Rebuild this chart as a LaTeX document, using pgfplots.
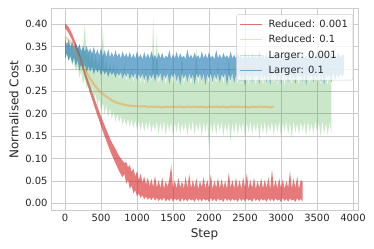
\documentclass[border=0pt]{standalone}
\usepackage{fontspec}
\setmainfont{DejaVu Sans}
\usepackage{pgfplots}
\usepackage{pgfplotstable}
\usepgfplotslibrary{fillbetween}
\pgfplotsset{compat=1.18}
\definecolor{tred}{HTML}{D62728}
\definecolor{torange}{HTML}{FF7F0E}
\definecolor{tgreen}{HTML}{2CA02C}
\definecolor{tblue}{HTML}{1F77B4}
\definecolor{gridc}{HTML}{CCCCCC}
\definecolor{txt}{HTML}{262626}
% x  lower  upper (envelope of the noisy series)
\pgfplotstableread[row sep=\\]{
x l u\\
0 .392 .402\\ 50 .380 .394\\ 100 .364 .378\\ 150 .344 .358\\ 200 .322 .336\\ 250 .296 .310\\ 300 .270 .285\\
350 .245 .262\\ 400 .220 .238\\ 450 .196 .216\\ 500 .172 .194\\ 550 .150 .174\\ 600 .128 .154\\ 650 .108 .136\\
700 .090 .122\\ 750 .072 .106\\ 800 .058 .095\\ 825 .066 .090\\ 850 .044 .092\\ 875 .052 .080\\ 900 .032 .086\\
925 .040 .070\\ 950 .022 .078\\ 975 .030 .060\\ 1000 .015 .072\\ 1025 .022 .052\\ 1050 .012 .066\\ 1075 .018 .046\\
1100 .009 .060\\ 1125 .015 .042\\ 1150 .008 .058\\ 1175 .013 .038\\ 1200 .007 .055\\ 1225 .014 .036\\ 1250 .006 .062\\
1275 .012 .035\\ 1300 .005 .052\\ 1325 .011 .034\\ 1350 .006 .058\\ 1375 .013 .033\\ 1400 .004 .050\\ 1425 .010 .036\\
1450 .005 .056\\ 1475 .012 .085\\ 1500 .004 .034\\ 1525 .011 .052\\ 1550 .006 .033\\ 1575 .010 .057\\ 1600 .003 .035\\
1625 .012 .050\\ 1650 .005 .032\\ 1675 .010 .060\\ 1700 .004 .034\\ 1725 .011 .066\\ 1750 .006 .033\\ 1775 .009 .052\\
1800 .003 .035\\ 1825 .012 .056\\ 1850 .005 .032\\ 1875 .010 .050\\ 1900 .004 .036\\ 1925 .011 .058\\ 1950 .006 .033\\
1975 .009 .053\\ 2000 .003 .034\\ 2025 .012 .064\\ 2050 .005 .032\\ 2075 .010 .051\\ 2100 .004 .035\\ 2125 .011 .056\\
2150 .006 .033\\ 2175 .009 .054\\ 2200 .003 .034\\ 2225 .012 .050\\ 2250 .005 .032\\ 2275 .010 .068\\ 2300 .004 .035\\
2325 .011 .052\\ 2350 .006 .033\\ 2375 .009 .057\\ 2400 .003 .034\\ 2425 .012 .052\\ 2450 .005 .032\\ 2475 .010 .058\\
2500 .004 .035\\ 2525 .011 .067\\ 2550 .006 .033\\ 2575 .009 .052\\ 2600 .003 .034\\ 2625 .012 .057\\ 2650 .005 .032\\
2675 .010 .050\\ 2700 .004 .035\\ 2725 .011 .056\\ 2750 .006 .033\\ 2775 .009 .053\\ 2800 .003 .034\\ 2825 .012 .058\\
2850 .005 .032\\ 2875 .010 .076\\ 2900 .004 .035\\ 2925 .011 .052\\ 2950 .006 .033\\ 2975 .009 .056\\ 3000 .003 .034\\
3025 .012 .054\\ 3050 .005 .032\\ 3075 .010 .050\\ 3100 .004 .035\\ 3125 .011 .072\\ 3150 .006 .033\\ 3175 .009 .055\\
3200 .003 .034\\ 3225 .012 .060\\ 3250 .005 .032\\ 3275 .010 .052\\ 3300 .004 .048\\
}\redtab
\pgfplotstableread[row sep=\\]{
x y\\
0 .372\\ 50 .365\\ 100 .355\\ 150 .340\\ 200 .322\\ 250 .305\\ 300 .291\\ 350 .278\\ 400 .266\\ 450 .256\\
500 .248\\ 550 .241\\ 600 .235\\ 650 .230\\ 700 .226\\ 750 .223\\ 800 .221\\ 850 .219\\ 900 .218\\ 950 .217\\
1000 .217\\ 1050 .216\\ 1100 .217\\ 1150 .215\\ 1200 .216\\ 1250 .215\\ 1300 .216\\ 1350 .214\\ 1400 .216\\ 1450 .215\\
1500 .216\\ 1550 .215\\ 1600 .216\\ 1650 .214\\ 1700 .216\\ 1750 .215\\ 1800 .216\\ 1850 .215\\ 1900 .216\\ 1950 .214\\
2000 .216\\ 2050 .215\\ 2100 .216\\ 2150 .215\\ 2200 .216\\ 2250 .214\\ 2300 .216\\ 2350 .215\\ 2400 .216\\ 2450 .215\\
2500 .216\\ 2550 .214\\ 2600 .216\\ 2650 .215\\ 2700 .216\\ 2750 .215\\ 2800 .216\\ 2850 .214\\ 2900 .216\\
}\orangetab
\pgfplotstableread[row sep=\\]{
x l u\\
0 .325 .362\\ 25 .332 .350\\ 50 .318 .360\\ 75 .326 .345\\ 100 .308 .355\\ 125 .318 .340\\ 150 .295 .352\\
175 .306 .335\\ 200 .280 .355\\ 225 .295 .330\\ 250 .265 .350\\ 275 .282 .400\\ 300 .255 .325\\ 325 .270 .345\\
350 .242 .318\\ 375 .258 .340\\ 400 .228 .312\\ 425 .246 .335\\ 450 .218 .305\\ 475 .235 .330\\ 500 .205 .300\\
525 .225 .392\\ 550 .200 .295\\ 575 .218 .322\\ 600 .192 .290\\ 625 .212 .315\\ 650 .188 .285\\ 675 .205 .312\\
700 .182 .280\\ 725 .200 .305\\ 750 .180 .278\\ 775 .196 .300\\ 800 .175 .275\\ 825 .192 .310\\ 850 .172 .272\\
875 .190 .298\\ 900 .170 .270\\ 925 .188 .302\\ 950 .168 .268\\ 975 .186 .295\\ 1000 .165 .266\\ 1025 .185 .298\\
1050 .162 .265\\ 1075 .184 .300\\ 1100 .160 .262\\ 1125 .182 .305\\ 1150 .164 .265\\ 1175 .185 .295\\ 1200 .158 .268\\
1225 .180 .412\\ 1250 .162 .265\\ 1275 .184 .380\\ 1300 .155 .262\\ 1325 .182 .296\\ 1350 .160 .266\\ 1375 .185 .300\\
1400 .152 .263\\ 1425 .180 .294\\ 1450 .160 .268\\ 1475 .183 .302\\ 1500 .148 .262\\ 1525 .182 .296\\ 1550 .158 .265\\
1575 .184 .300\\ 1600 .155 .264\\ 1625 .180 .335\\ 1650 .160 .262\\ 1675 .183 .296\\ 1700 .150 .266\\ 1725 .182 .300\\
1750 .158 .263\\ 1775 .185 .295\\ 1800 .154 .265\\ 1825 .180 .350\\ 1850 .160 .262\\ 1875 .183 .298\\ 1900 .148 .266\\
1925 .182 .302\\ 1950 .158 .263\\ 1975 .184 .295\\ 2000 .125 .265\\ 2025 .180 .305\\ 2050 .156 .262\\ 2075 .183 .296\\
2100 .152 .266\\ 2125 .182 .310\\ 2150 .160 .263\\ 2175 .184 .295\\ 2200 .150 .265\\ 2225 .180 .300\\ 2250 .158 .262\\
2275 .183 .330\\ 2300 .138 .266\\ 2325 .182 .296\\ 2350 .156 .263\\ 2375 .184 .302\\ 2400 .152 .265\\ 2425 .180 .295\\
2450 .160 .262\\ 2475 .183 .300\\ 2500 .145 .266\\ 2525 .182 .340\\ 2550 .158 .263\\ 2575 .184 .296\\ 2600 .154 .265\\
2625 .180 .302\\ 2650 .160 .262\\ 2675 .183 .295\\ 2700 .142 .266\\ 2725 .182 .300\\ 2750 .156 .263\\ 2775 .184 .296\\
2800 .152 .265\\ 2825 .180 .330\\ 2850 .160 .262\\ 2875 .183 .298\\ 2900 .150 .266\\ 2925 .182 .302\\ 2950 .158 .263\\
2975 .184 .295\\ 3000 .148 .265\\ 3025 .180 .310\\ 3050 .160 .262\\ 3075 .183 .296\\ 3100 .152 .266\\ 3125 .182 .300\\
3150 .145 .263\\ 3175 .184 .302\\ 3200 .158 .265\\ 3225 .180 .295\\ 3250 .154 .262\\ 3275 .183 .320\\ 3300 .160 .266\\
3325 .182 .296\\ 3350 .150 .263\\ 3375 .184 .300\\ 3400 .158 .265\\ 3425 .180 .295\\ 3450 .154 .262\\ 3475 .183 .335\\
3500 .160 .266\\ 3525 .182 .296\\ 3550 .150 .263\\ 3575 .184 .302\\ 3600 .156 .265\\ 3625 .180 .295\\ 3650 .152 .262\\
3675 .183 .300\\ 3700 .155 .290\\
}\greentab
\pgfplotstableread[row sep=\\]{
x l u\\
0 .322 .368\\ 25 .335 .355\\ 50 .318 .366\\ 75 .330 .350\\ 100 .312 .362\\ 125 .326 .348\\ 150 .305 .358\\
175 .320 .345\\ 200 .296 .356\\ 225 .312 .340\\ 250 .298 .352\\ 275 .310 .338\\ 300 .292 .352\\ 325 .306 .336\\
350 .294 .346\\ 375 .305 .334\\ 400 .288 .350\\ 425 .302 .332\\ 450 .292 .344\\ 475 .300 .330\\ 500 .285 .348\\
525 .298 .328\\ 550 .288 .342\\ 575 .296 .327\\ 600 .282 .345\\ 625 .295 .326\\ 650 .286 .338\\ 675 .294 .325\\
700 .280 .342\\ 725 .293 .327\\ 750 .284 .336\\ 775 .294 .324\\ 800 .278 .340\\ 825 .292 .326\\ 850 .282 .335\\
875 .293 .325\\ 900 .275 .338\\ 925 .290 .324\\ 950 .280 .334\\ 975 .292 .323\\ 1000 .272 .340\\ 1025 .290 .325\\
1050 .278 .333\\ 1075 .291 .322\\ 1100 .274 .338\\ 1125 .290 .324\\ 1150 .268 .335\\ 1175 .289 .323\\ 1200 .278 .340\\
1225 .291 .325\\ 1250 .272 .332\\ 1275 .290 .322\\ 1300 .280 .337\\ 1325 .292 .324\\ 1350 .270 .336\\ 1375 .289 .323\\
1400 .278 .330\\ 1425 .291 .325\\ 1450 .266 .342\\ 1475 .290 .322\\ 1500 .280 .333\\ 1525 .292 .324\\ 1550 .272 .338\\
1575 .289 .323\\ 1600 .264 .335\\ 1625 .291 .325\\ 1650 .278 .330\\ 1675 .290 .322\\ 1700 .270 .344\\ 1725 .292 .324\\
1750 .276 .332\\ 1775 .289 .323\\ 1800 .266 .337\\ 1825 .291 .325\\ 1850 .280 .331\\ 1875 .290 .322\\ 1900 .273 .340\\
1925 .292 .324\\ 1950 .264 .334\\ 1975 .289 .323\\ 2000 .278 .338\\ 2025 .291 .325\\ 2050 .270 .330\\ 2075 .290 .322\\
2100 .276 .343\\ 2125 .292 .324\\ 2150 .268 .333\\ 2175 .289 .323\\ 2200 .280 .336\\ 2225 .291 .325\\ 2250 .262 .331\\
2275 .290 .322\\ 2300 .274 .339\\ 2325 .292 .324\\ 2350 .267 .332\\ 2375 .289 .323\\ 2400 .278 .337\\ 2425 .291 .325\\
2450 .271 .330\\ 2475 .290 .322\\ 2500 .262 .340\\ 2525 .292 .324\\ 2550 .276 .332\\ 2575 .289 .323\\ 2600 .269 .336\\
2625 .291 .325\\ 2650 .278 .330\\ 2675 .290 .322\\ 2700 .266 .341\\ 2725 .292 .324\\ 2750 .275 .333\\ 2775 .289 .323\\
2800 .270 .337\\ 2825 .291 .325\\ 2850 .264 .331\\ 2875 .290 .322\\ 2900 .278 .339\\ 2925 .292 .324\\ 2950 .272 .332\\
2975 .289 .323\\ 3000 .267 .336\\ 3025 .291 .325\\ 3050 .278 .330\\ 3075 .290 .322\\ 3100 .270 .342\\ 3125 .292 .324\\
3150 .275 .333\\ 3175 .289 .323\\ 3200 .266 .337\\ 3225 .291 .325\\ 3250 .279 .331\\ 3275 .290 .322\\ 3300 .271 .339\\
3325 .292 .324\\ 3350 .264 .332\\ 3375 .289 .323\\ 3400 .277 .336\\ 3425 .291 .325\\ 3450 .269 .330\\ 3475 .290 .322\\
3500 .278 .341\\ 3525 .292 .324\\ 3550 .272 .333\\ 3575 .289 .323\\ 3600 .265 .337\\ 3625 .291 .325\\ 3650 .279 .331\\
3675 .290 .322\\ 3700 .270 .339\\ 3725 .292 .324\\ 3750 .274 .333\\ 3775 .289 .323\\ 3800 .278 .337\\ 3825 .291 .325\\
3850 .283 .332\\ 3875 .290 .330\\
}\bluetab
\begin{document}
\begin{tikzpicture}
\begin{axis}[name=ax, set layers,
  scale only axis, width=307bp, height=202.4bp,
  xmin=-195, xmax=4070, ymin=-0.0165, ymax=0.4355,
  xtick={0,500,...,4000}, ytick={0,0.05,...,0.41},
  yticklabel style={/pgf/number format/.cd,fixed,fixed zerofill,precision=2},
  xticklabel style={/pgf/number format/.cd,set thousands separator={}},
  /pgf/number format/assume math mode=true,
  tick label style={font=\fontsize{10}{12}\selectfont\color{txt}},
  label style={font=\fontsize{12}{14}\selectfont\color{txt}},
  xlabel={Step}, ylabel={Normalised Cost},
  major tick length=0pt,
  grid=major, grid style={gridc, line width=0.8pt},
  axis line style={gridc, line width=0.8pt},
  legend style={at={(0.984,0.97)}, anchor=north east, draw=gridc, fill=white, fill opacity=0.8, text opacity=1, rounded corners=2pt, font=\fontsize{10}{12}\selectfont\color{txt}, row sep=2.6pt, inner xsep=3pt, inner ysep=3pt,
    /tikz/every odd column/.append style={column sep=4bp}},
  legend cell align=left,
  legend image code/.code={\draw[#1] (0bp,0bp) -- (22bp,0bp);},
]
\addlegendimage{tred, draw opacity=0.65, line width=1.1pt}
\addlegendentry{Reduced: 0.001}
\addlegendimage{torange, draw opacity=0.3, line width=1.1pt}
\addlegendentry{Reduced: 0.1}
\addlegendimage{tgreen, draw opacity=0.25, line width=1.1pt}
\addlegendentry{Larger: 0.001}
\addlegendimage{tblue, draw opacity=0.6, line width=1.1pt}
\addlegendentry{Larger: 0.1}
\addplot[draw=none, name path=rL, forget plot] table[x=x, y=l] {\redtab};
\addplot[draw=none, name path=rU, forget plot] table[x=x, y=u] {\redtab};
\addplot[fill=tred, fill opacity=0.62, draw=none, forget plot] fill between[of=rU and rL];
\addplot[draw=none, name path=gL, forget plot] table[x=x, y=l] {\greentab};
\addplot[draw=none, name path=gU, forget plot] table[x=x, y=u] {\greentab};
\addplot[fill=tgreen, fill opacity=0.25, draw=none, forget plot] fill between[of=gU and gL];
\addplot[draw=none, name path=bL, forget plot] table[x=x, y=l] {\bluetab};
\addplot[draw=none, name path=bU, forget plot] table[x=x, y=u] {\bluetab};
\addplot[fill=tblue, fill opacity=0.62, draw=none, forget plot] fill between[of=bU and bL];
\addplot[torange, draw opacity=0.35, line width=2.2pt, forget plot] table[x=x, y=y] {\orangetab};
\end{axis}
\pgfresetboundingbox
\path[use as bounding box] ([xshift=-51bp,yshift=-38.3bp]ax.south west) rectangle ([xshift=16bp,yshift=8.3bp]ax.north east);
\end{tikzpicture}
\end{document}
